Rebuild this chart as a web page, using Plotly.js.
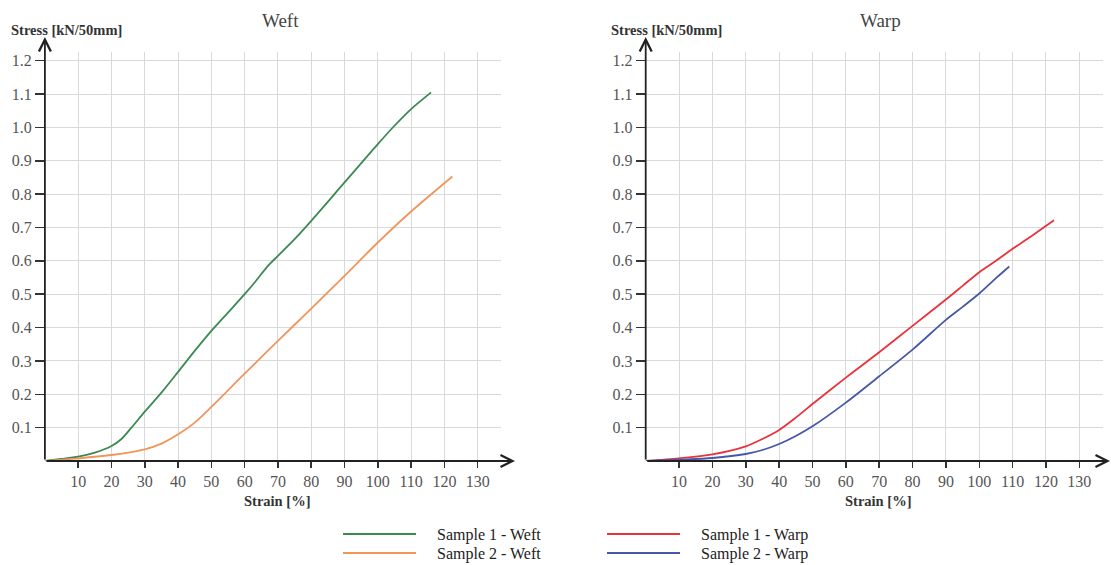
<!DOCTYPE html>
<html>
<head>
<meta charset="utf-8">
<script src="https://cdn.plot.ly/plotly-3.0.1.min.js"></script>
<style>html,body{margin:0;padding:0;background:#fff;}#chart{width:1111px;height:565px;}</style>
</head>
<body>
<div id="chart"></div>
<script>
// ---- data ----
const panelTitles = ["Weft", "Warp"];
const xTickVals = [10, 20, 30, 40, 50, 60, 70, 80, 90, 100, 110, 120, 130];
const yTickVals = [0.1, 0.2, 0.3, 0.4, 0.5, 0.6, 0.7, 0.8, 0.9, 1.0, 1.1, 1.2];
const yTickText = ["0.1", "0.2", "0.3", "0.4", "0.5", "0.6", "0.7", "0.8", "0.9", "1.0", "1.1", "1.2"];
const xTitle = "Strain [%]";
const yTitle = "Stress [kN/50mm]";

const seriesNames = ["Sample 1 - Weft", "Sample 2 - Weft", "Sample 1 - Warp", "Sample 2 - Warp"];
const seriesColors = ["#3b8a52", "#f2955a", "#e8333d", "#4658a6"];

const weft1X = [0, 5, 10, 15, 20, 23, 26, 30, 35, 40, 45, 50, 55, 60, 63, 67, 70, 75, 80, 90, 100, 105, 110, 116];
const weft1Y = [0, 0.006, 0.013, 0.025, 0.045, 0.066, 0.1, 0.148, 0.205, 0.267, 0.33, 0.39, 0.445, 0.5, 0.535, 0.585, 0.615, 0.665, 0.72, 0.835, 0.95, 1.005, 1.055, 1.105];

const weft2X = [0, 10, 20, 30, 35, 40, 45, 50, 55, 60, 70, 80, 90, 100, 110, 122.4];
const weft2Y = [0, 0.008, 0.018, 0.035, 0.052, 0.08, 0.115, 0.162, 0.212, 0.262, 0.36, 0.457, 0.555, 0.655, 0.748, 0.853];

const warp1X = [0, 10, 20, 30, 35, 40, 45, 50, 60, 70, 80, 90, 95, 100, 105, 110, 115, 122.4];
const warp1Y = [0, 0.008, 0.02, 0.044, 0.066, 0.093, 0.13, 0.171, 0.25, 0.326, 0.405, 0.484, 0.525, 0.566, 0.6, 0.636, 0.67, 0.722];

const warp2X = [0, 10, 20, 30, 35, 40, 45, 50, 60, 70, 80, 90, 95, 100, 105, 109];
const warp2Y = [0, 0.004, 0.009, 0.021, 0.033, 0.051, 0.075, 0.104, 0.175, 0.254, 0.334, 0.423, 0.462, 0.502, 0.548, 0.583];

// ---- build ----
const W = 1111, H = 565;
const serif = "Liberation Serif, Times New Roman, serif";
const px = v => v / W;
const py = v => (H - v) / H;

function line(x, y, i, xa, ya) {
  return {
    x: x, y: y, type: "scatter", mode: "lines", name: seriesNames[i],
    xaxis: xa, yaxis: ya, showlegend: false, hoverinfo: "skip",
    line: {color: seriesColors[i], width: 1.8, shape: "spline", smoothing: 0.8}
  };
}

const traces = [
  line(weft1X, weft1Y, 0, "x", "y"),
  line(weft2X, weft2Y, 1, "x", "y"),
  line(warp1X, warp1Y, 2, "x2", "y2"),
  line(warp2X, warp2Y, 3, "x2", "y2")
];

const gridColor = "#d9d9d9";
function xAxis(domain, anchor) {
  return {
    domain: domain, anchor: anchor, range: [0, 137], tickvals: xTickVals,
    ticks: "outside", ticklen: 6, tickwidth: 1.5, tickcolor: "#333",
    showgrid: true, gridcolor: gridColor, gridwidth: 1,
    zeroline: false, showline: false, fixedrange: true, automargin: false,
    tickfont: {family: serif, size: 16, color: "#555"}
  };
}
function yAxis(anchor) {
  return {
    domain: [py(461), py(51.7)], anchor: anchor, range: [0, 1.227],
    tickvals: yTickVals, ticktext: yTickText,
    ticks: "outside", ticklen: 9, tickwidth: 1.5, tickcolor: "#333",
    showgrid: true, gridcolor: gridColor, gridwidth: 1,
    zeroline: false, showline: false, fixedrange: true, automargin: false,
    tickfont: {family: serif, size: 16, color: "#555"}
  };
}

const panels = [
  {x0: 44.9, xEnd: 515, center: 280, xTitleC: 277, yTitleL: 9},
  {x0: 645.7, xEnd: 1110, center: 880, xTitleC: 878, yTitleL: 609}
];

const annotations = [];
const shapes = [];
panels.forEach((p, i) => {
  // x axis arrow
  annotations.push({xref: "paper", yref: "paper", x: px(p.xEnd), y: py(461), ax: p.x0 - p.xEnd, ay: 0,
    axref: "pixel", ayref: "pixel", text: "", showarrow: true, arrowhead: 5, arrowsize: 1.3, arrowwidth: 1.8, arrowcolor: "#222"});
  // y axis arrow
  annotations.push({xref: "paper", yref: "paper", x: px(p.x0), y: py(37), ax: 0, ay: 461 - 37,
    axref: "pixel", ayref: "pixel", text: "", showarrow: true, arrowhead: 5, arrowsize: 1.3, arrowwidth: 1.8, arrowcolor: "#222"});
  // panel title
  annotations.push({xref: "paper", yref: "paper", x: px(p.center), y: py(20), xanchor: "center", yanchor: "middle",
    text: panelTitles[i], showarrow: false, font: {family: serif, size: 19, color: "#444"}});
  // y title
  annotations.push({xref: "paper", yref: "paper", x: px(p.yTitleL), y: py(30), xanchor: "left", yanchor: "middle",
    text: "<b>" + yTitle + "</b>", showarrow: false, font: {family: serif, size: 14.5, color: "#333"}});
  // x title
  annotations.push({xref: "paper", yref: "paper", x: px(p.xTitleC), y: py(501), xanchor: "center", yanchor: "middle",
    text: "<b>" + xTitle + "</b>", showarrow: false, font: {family: serif, size: 14.5, color: "#333"}});
});

// legend (two columns)
const legendCols = [{l0: 343, l1: 416, t: 435}, {l0: 607, l1: 680, t: 699}];
const legendRows = [534, 553];
[0, 1, 2, 3].forEach(i => {
  const c = legendCols[Math.floor(i / 2)], r = legendRows[i % 2];
  shapes.push({type: "line", xref: "paper", yref: "paper", x0: px(c.l0), x1: px(c.l1), y0: py(r), y1: py(r),
    line: {color: seriesColors[i], width: 1.8}});
  annotations.push({xref: "paper", yref: "paper", x: px(c.t), y: py(r + 1), xanchor: "left", yanchor: "middle",
    text: seriesNames[i], showarrow: false, font: {family: serif, size: 16, color: "#222"}});
});

const layout = {
  width: W, height: H, margin: {l: 0, r: 0, t: 0, b: 0},
  paper_bgcolor: "#fff", plot_bgcolor: "#fff", showlegend: false,
  xaxis: xAxis([px(44.9), px(501)], "y"),
  yaxis: yAxis("x"),
  xaxis2: xAxis([px(645.7), px(1102.7)], "y2"),
  yaxis2: yAxis("x2"),
  annotations: annotations, shapes: shapes
};

Plotly.newPlot("chart", traces, layout, {displayModeBar: false, staticPlot: true});
</script>
</body>
</html>
